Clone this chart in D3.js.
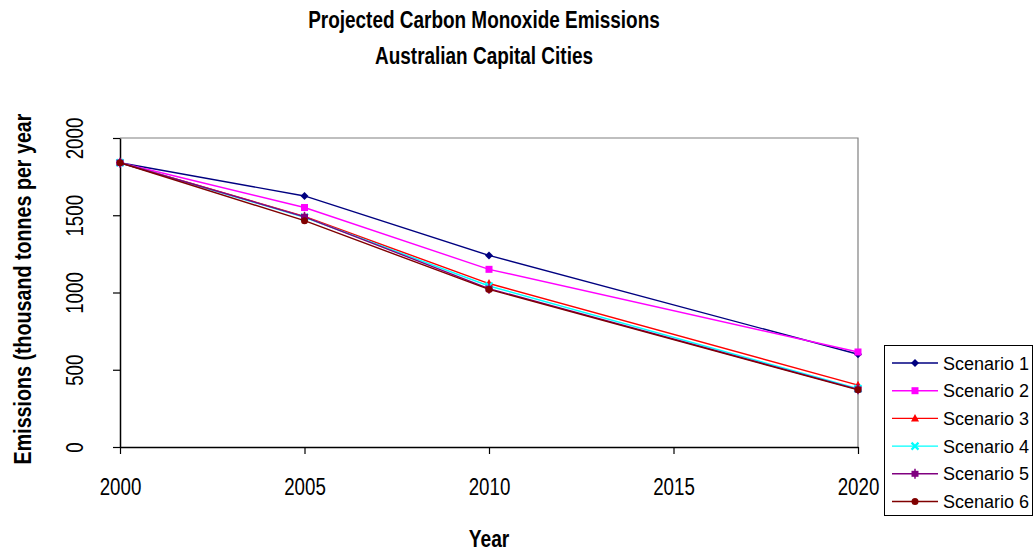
<!DOCTYPE html>
<html>
<head>
<meta charset="utf-8">
<script src="https://cdn.jsdelivr.net/npm/d3@7"></script>
<style>
  html, body { margin: 0; padding: 0; background: #fff; }
  svg { display: block; }
  text { font-family: "Liberation Sans", Arial, sans-serif; }
</style>
</head>
<body>
<svg id="chart" width="1035" height="552"></svg>
<script>
// Projected CO emissions, thousand tonnes per year
const years = [2000, 2005, 2010, 2020];
const scenarioNames = ["Scenario 1", "Scenario 2", "Scenario 3", "Scenario 4", "Scenario 5", "Scenario 6"];
const scenario1 = [1840, 1625, 1240, 600];
const scenario2 = [1840, 1550, 1150, 615];
const scenario3 = [1840, 1492, 1058, 400];
const scenario4 = [1840, 1487, 1042, 378];
const scenario5 = [1840, 1490, 1025, 373];
const scenario6 = [1840, 1465, 1020, 370];
const xTicks = [2000, 2005, 2010, 2015, 2020];
const yTicks = [0, 500, 1000, 1500, 2000];

const seriesValues = [scenario1, scenario2, scenario3, scenario4, scenario5, scenario6];
const colors = ["#000080", "#ff00ff", "#ff0000", "#00ffff", "#800080", "#800000"];
const markers = ["diamond", "square", "triangle", "cross", "hourglass", "circle"];

const svg = d3.select("#chart");
const plot = { left: 120, right: 858, top: 138, bottom: 447 };

const x = d3.scaleLinear().domain([2000, 2020]).range([plot.left, plot.right]);
const y = d3.scaleLinear().domain([0, 2000]).range([plot.bottom, plot.top]);

// condensed lettering: horizontal squeeze applied after placement
const narrow = 0.78;

// plot-area frame (top and right edges)
svg.append("path")
  .attr("d", `M${plot.left},${plot.top}H${plot.right}V${plot.bottom}`)
  .attr("fill", "none").attr("stroke", "#808080").attr("stroke-width", 1.2);

// x axis
const xAxis = svg.append("g")
  .attr("transform", `translate(0,${plot.bottom})`)
  .call(d3.axisBottom(x).tickValues(xTicks).tickFormat(d3.format("d")).tickSize(7).tickSizeOuter(0));
xAxis.select(".domain").attr("stroke", "#000").attr("stroke-width", 1.5);
xAxis.selectAll(".tick line").attr("stroke", "#000").attr("stroke-width", 1.2);
xAxis.selectAll(".tick text")
  .attr("font-size", 24).attr("fill", "#000").attr("font-family", "Liberation Sans, Arial, sans-serif")
  .attr("y", 0).attr("dy", null)
  .attr("transform", `translate(0,48) scale(${narrow},1)`);

// y axis with rotated labels
const yAxis = svg.append("g")
  .attr("transform", `translate(${plot.left},0)`)
  .call(d3.axisLeft(y).tickValues(yTicks).tickFormat(d3.format("d")).tickSize(7).tickSizeOuter(0));
yAxis.select(".domain").attr("stroke", "#000").attr("stroke-width", 1.5);
yAxis.selectAll(".tick line").attr("stroke", "#000").attr("stroke-width", 1.2);
yAxis.selectAll(".tick text")
  .attr("font-size", 24).attr("fill", "#000").attr("font-family", "Liberation Sans, Arial, sans-serif")
  .attr("x", 0).attr("dy", null)
  .attr("text-anchor", "middle")
  .attr("transform", `translate(-37.5,0) rotate(-90) scale(${narrow},1)`);

// titles
function condensedText(tx, ty, rot, label, size, sx) {
  return svg.append("text")
    .attr("font-weight", "bold").attr("font-size", size).attr("text-anchor", "middle").attr("fill", "#000")
    .attr("transform", `translate(${tx},${ty}) rotate(${rot}) scale(${sx},1)`)
    .text(label);
}
condensedText(484, 28, 0, "Projected Carbon Monoxide Emissions", 24, 0.79);
condensedText(484, 64, 0, "Australian Capital Cities", 24, 0.79);
condensedText(489, 547, 0, "Year", 24, 0.8);
condensedText(31, 289, -90, "Emissions (thousand tonnes per year", 24, 0.82);

// marker shapes
function drawMarker(g, type, color) {
  if (type === "diamond") {
    g.append("path").attr("d", "M0,-4L4,0L0,4L-4,0Z").attr("fill", color);
  } else if (type === "square") {
    g.append("rect").attr("x", -3.5).attr("y", -3.5).attr("width", 7).attr("height", 7).attr("fill", color);
  } else if (type === "triangle") {
    g.append("path").attr("d", "M0,-4.5L4,3L-4,3Z").attr("fill", color);
  } else if (type === "cross") {
    g.append("path").attr("d", "M-3.5,-3.5L3.5,3.5M3.5,-3.5L-3.5,3.5").attr("stroke", color).attr("stroke-width", 2.2);
  } else if (type === "hourglass") {
    g.append("rect").attr("x", -3.5).attr("y", -3).attr("width", 7).attr("height", 6).attr("fill", color);
    g.append("path").attr("d", "M0,-5V5").attr("stroke", color).attr("stroke-width", 1.5);
  } else {
    g.append("circle").attr("r", 3.5).attr("fill", color);
  }
}

const line = d3.line().x((d, i) => x(years[i])).y(d => y(d));

seriesValues.forEach((vals, s) => {
  const g = svg.append("g");
  g.append("path").attr("d", line(vals))
    .attr("fill", "none").attr("stroke", colors[s]).attr("stroke-width", 1.4);
  vals.forEach((v, i) => {
    const m = g.append("g").attr("transform", `translate(${x(years[i])},${y(v)})`);
    drawMarker(m, markers[s], colors[s]);
  });
});

// legend
const legend = svg.append("g");
legend.append("rect").attr("x", 884.5).attr("y", 345.5).attr("width", 148).attr("height", 170)
  .attr("fill", "#fff").attr("stroke", "#000").attr("stroke-width", 1);
scenarioNames.forEach((name, s) => {
  const ly = 363 + s * 27.7;
  legend.append("line").attr("x1", 892).attr("x2", 938).attr("y1", ly).attr("y2", ly)
    .attr("stroke", colors[s]).attr("stroke-width", 1.4);
  const m = legend.append("g").attr("transform", `translate(915,${ly})`);
  drawMarker(m, markers[s], colors[s]);
  legend.append("text").attr("x", 943).attr("y", ly + 6.5).attr("font-size", 18).attr("fill", "#000").text(name);
});
</script>
</body>
</html>
